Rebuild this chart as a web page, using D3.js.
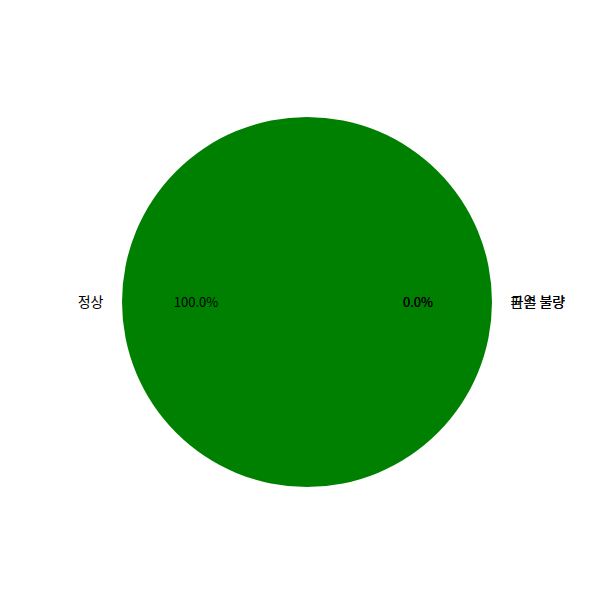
<!DOCTYPE html>
<html>
<head>
<meta charset="utf-8">
<script src="https://cdn.jsdelivr.net/npm/d3@7"></script>
<style>
  body { margin: 0; background: #fff; }
  svg text { font-family: "Noto Sans CJK KR", "DejaVu Sans", sans-serif; font-size: 13px; fill: #000; }
  svg text.lbl { font-size: 14px; }
</style>
</head>
<body>
<svg width="600" height="600"></svg>
<script>
// data
var categories = ["정상", "파손 불량", "균열 불량"];
var values = [100, 0, 0];
var colors = ["green", "#ff7f0e", "#d62728"];

var svg = d3.select("svg"),
    cx = 307, cy = 302, radius = 185;

var g = svg.append("g").attr("transform", "translate(" + cx + "," + cy + ")");

var total = d3.sum(values);

// matplotlib style: start at 3 o'clock, counterclockwise
var pie = d3.pie().sort(null).value(function(d) { return d; })
    .startAngle(Math.PI / 2).endAngle(Math.PI / 2 - 2 * Math.PI);

var arcs = pie(values);
var arc = d3.arc().innerRadius(0).outerRadius(radius);

g.selectAll("path")
    .data(arcs)
    .enter().append("path")
    .attr("d", arc)
    .attr("fill", function(d, i) { return colors[i]; });

function mid(d) { return (d.startAngle + d.endAngle) / 2; }

// category labels
g.selectAll(".lbl")
    .data(arcs)
    .enter().append("text")
    .attr("class", "lbl")
    .attr("x", function(d) { return 1.1 * radius * Math.sin(mid(d)); })
    .attr("y", function(d) { return -1.1 * radius * Math.cos(mid(d)); })
    .attr("dy", "0.35em")
    .attr("text-anchor", function(d) { return Math.sin(mid(d)) < -1e-6 ? "end" : "start"; })
    .text(function(d, i) { return categories[i]; });

// percentage labels
g.selectAll(".pct")
    .data(arcs)
    .enter().append("text")
    .attr("class", "pct")
    .attr("x", function(d) { return 0.6 * radius * Math.sin(mid(d)); })
    .attr("y", function(d) { return -0.6 * radius * Math.cos(mid(d)); })
    .attr("dy", "0.35em")
    .attr("text-anchor", "middle")
    .text(function(d) { return (d.data / total * 100).toFixed(1) + "%"; });
</script>
</body>
</html>
